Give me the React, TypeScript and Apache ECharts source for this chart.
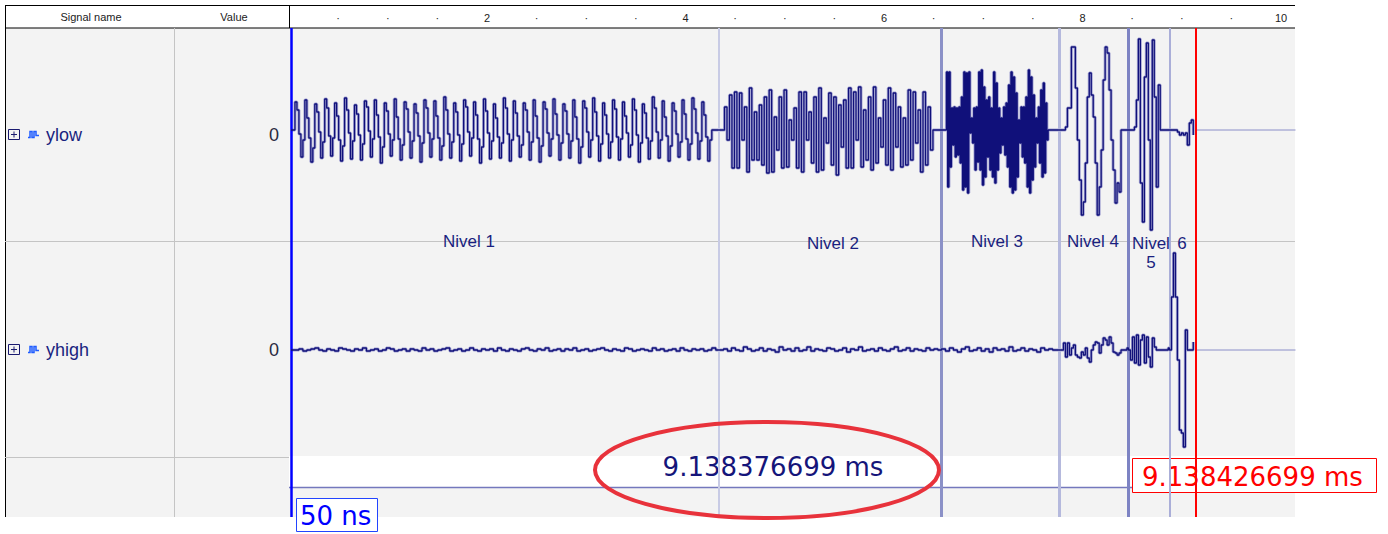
import React, { useEffect, useRef } from "react";
import * as echarts from "echarts";

// ---------- axis ----------
const X_MIN = 0;
const X_MAX = 10.146;
const TICK_STEP = 0.5;
const LABELED_TICKS = [2, 4, 6, 8, 10];

// ---------- signals ----------
const signalNames = ["ylow", "yhigh"];
const signalValues = ["0", "0"];

// cursors / level boundaries (time units of the ruler)
const cursorStart = 0.025;
const cursorEnd = 9.138;
const levelBoundaries = [4.343, 6.579, 7.768, 8.463, 8.876];
const boundaryColors = ["#c8cbe5", "#8b91c7", "#b5b9dd", "#7d83c3", "#aaaed8"];
const boundaryWidths = [2, 3, 3, 3, 2];

const deltaText = "9.138376699 ms";
const cursorEndText = "9.138426699 ms";
const cursorStartText = "50 ns";

// segment start times and sample spacing
const ylowStarts = [0.025, 4.343, 6.579, 7.768, 8.463, 8.876];
const ylowSteps = [0.02, 0.025, 0.0125, 0.02, 0.02, 0.02];
const yhighStarts = [0.025, 4.343, 6.579, 7.768, 8.463, 8.876];
const yhighSteps = [0.04, 0.04, 0.04, 0.02, 0.02, 0.02];

// ylow samples per level
const ylowNivel1 = [0, 0,
  28, 20, -4, -27, -10, 30, 12, -8, -32, -18, 26, 18, -2, -28, -12, 31, 22, -6, -26, -8,
  27, 14, -10, -31, -16, 32, 20, -3, -29, -11, 25, 16, -5, -30, -14, 29, 23, -1, -27, -9,
  30, 15, -7, -33, -17, 27, 19, -4, -26, -10, 31, 13, -9, -30, -15, 28, 21, -2, -28, -11,
  26, 17, -6, -32, -13, 30, 22, -3, -27, -9, 29, 14, -8, -30, -16, 33, 20, -4, -28, -12,
  27, 18, -5, -31, -14, 30, 23, -2, -26, -8, 28, 15, -9, -33, -17, 31, 19, -3, -29, -11,
  26, 12, -7, -28, -13, 32, 22, -4, -31, -10, 29, 17, -6, -27, -15, 27, 20, -2, -30, -12,
  30, 14, -8, -32, -16, 28, 21, -3, -26, -9, 31, 16, -5, -30, -13, 26, 19, -4, -28, -11,
  30, 13, -9, -33, -17, 29, 22, -2, -27, -10, 32, 18, -6, -31, -14, 27, 15, -4, -28, -12,
  30, 21, -7, -30, -9, 28, 14, -3, -27, -15, 31, 20, -5, -32, -13, 26, 17, -8, -29, -11,
  33, 22, -2, -28, -10, 29, 13, -6, -31, -16, 27, 19, -4, -27, -12, 30, 16, -9, -30, -14,
  32, 21, -3, -29, -11, 28, 15, -7, -31, -10,
  0, 0, 0, 0];

const ylowNivel2 = [0, 0,
  23, -10, 35, -38, 38, -38, 37, -10, 23, -42,
  42, -30, 18, -30, 25, -35, 33, -43, 40, -42,
  13, -20, 33, -38, 40, -37, 10, -10, 22, -38,
  38, -42, 38, -10, 18, -33, 33, -42, 42, -40,
  12, -13, 37, -35, 33, -45, 25, -17, 30, -38,
  42, -38, 38, -10, 43, -37, 20, -30, 33, -40,
  43, -33, 12, -17, 30, -35, 42, -40, 37, -17,
  23, -37, 12, -35, 40, -30, 38, -13, 20, -42,
  38, -35, 23, -20,
  0, 0, 0, 0];

const ylowNivel3 = [0, 0, 0, 0,
  58, -57, 58, -37, 22, -15, 23, -27, 22, -25, 23, -33, 33, -60, 58, -57,
  57, -63, 58, -3, 12, -13, 22, -40, 23, -32, 58, -40, 60, -55, 43, -47,
  30, -27, 33, -40, 22, -47, 58, -53, 47, -40, 22, -23, 12, -15, 23, -25,
  27, -37, 45, -57, 58, -63, 53, -60, 37, -47, 10, -13, 23, -27, 23, -33,
  33, -57, 60, -63, 53, -50, 35, -37, 12, -13, 23, -33, 40, -47, 47, -43,
  27, -10,
  0, 0, 0, 0, 0, 0, 0, 0, 0];

const ylowNivel4 = [0, 0, 0, 3, 22, 22, 83, 83, 42, -10, -50, -85, -72, -33, 33, 57, 35, 13,
  -33, -85, -57, -20, 50, 83, 77, 40, -10, -40, -73, -53, -62, 0, 0, 0, 0];

const ylowNivel5 = [0, 0, 0, 3, 30, 91, -53, -92, 53, 87, -10, -100, 90, 33, -57, 45, 0, 0, 0, 0, 0];

const ylowNivel6 = [0, 0, 0, 0, -2, -5, -3, -5, -3, -15, 7, 10, -5];

// yhigh samples per level
const yhighNivel1 = [
  0, 0, 1, -1, 0, 1, 2, 0, -1, 1, 0, -1, 2, 1, 0, -1, 1, 0, 2, -1,
  0, 1, -1, 0, 2, 1, -1, 0, 1, -1, 1, 0, -1, 2, 0, 1, -1, 0, 1, 2,
  -1, 0, 1, -1, 0, 2, 0, -1, 1, 0, 1, -1, 2, 0, -1, 1, 0, -1, 1, 2,
  0, -1, 1, 0, 2, -1, 0, 1, -1, 1, 0, 2, -1, 0, 1, -1, 0, 1, 2, 0,
  -1, 1, 0, -1, 2, 1, -1, 0, 1, 0, -1, 2, 0, 1, -1, 0, 1, -1, 2, 0,
  -1, 1, 0, 1, -1, 0, 2, 0];

const yhighNivel2 = [
  0, 1, -1, 2, 0, -1, 3, 1, -1, 0, 2, -1, 1, 0, -2, 3, 0, 1, -1, 2,
  -1, 0, 3, -1, 1, 0, -1, 2, 1, -1, 0, 2, -2, 1, 0, 3, -1, 0, 1, -1,
  2, 0, -1, 1, 3, -1, 0, 2, -1, 1, 0, -1, 2, 0, 1, 0];

const yhighNivel3 = [
  1, -1, 2, 0, -2, 1, 3, -1, 0, 2, -1, 1, -2, 2, 0, 1, -1, 3, -1, 0,
  2, -1, 1, 0, -2, 2, 0, 1, 0, 0];

const yhighNivel4 = [0, 0, 7, -7, 7, -5, 2, 5, -5, -7, -8, -2, -5, 2, -8, -12, 0, 5, 8, 7,
  -3, 5, 12, 10, 5, 13, 7, -2, -3, -5, -3, 0, 0, 0, 2];

const yhighNivel5 = [0, -10, 13, -13, 15, -15, 10, 15, -13, 13, -7, -17, 12, 3, 0, 0, 0, 0, 0, 0, 2];

const yhighNivel6 = [0, 53, 97, 53, -10, -80, -83, -97, 20, 0, 0, 0, 8];

const ylowLevels = [ylowNivel1, ylowNivel2, ylowNivel3, ylowNivel4, ylowNivel5, ylowNivel6];
const yhighLevels = [yhighNivel1, yhighNivel2, yhighNivel3, yhighNivel4, yhighNivel5, yhighNivel6];

const levelLabels = [
  { text: "Nivel 1", x: 469, y: 241 },
  { text: "Nivel 2", x: 833, y: 243 },
  { text: "Nivel 3", x: 997, y: 241 },
  { text: "Nivel 4", x: 1093, y: 241 },
  { text: "Nivel", x: 1151, y: 243 },
  { text: "5", x: 1151, y: 262 },
  { text: "6", x: 1182, y: 243 },
];

function buildSeries(starts: number[], steps: number[], levels: number[][]) {
  const out: [number, number][] = [];
  levels.forEach((vals, k) => {
    vals.forEach((v, i) => out.push([starts[k] + i * steps[k], v]));
  });
  return out;
}

const SANS = '"Liberation Sans", Arial, sans-serif';
const DV = '"DejaVu Sans", Verdana, sans-serif';
const NAVY = "#1a1f80";

function txt(text: string, x: number, y: number, size: number, color: string, align = "left", font = SANS, z = 7) {
  return {
    type: "text",
    x,
    y,
    z,
    style: {
      text,
      fill: color,
      fontSize: size,
      fontFamily: font,
      align,
      verticalAlign: "middle",
      textAlign: align,
      textVerticalAlign: "middle",
    },
  };
}

function hline(x1: number, x2: number, y: number, color: string, w = 1, z = 1) {
  return { type: "line", z, shape: { x1, y1: y, x2, y2: y }, style: { stroke: color, lineWidth: w } };
}
function vline(x: number, y1: number, y2: number, color: string, w = 1, z = 1) {
  return { type: "line", z, shape: { x1: x, y1, x2: x, y2 }, style: { stroke: color, lineWidth: w } };
}

function signalRowGraphics(cy: number, name: string, value: string) {
  return [
    { type: "rect", z: 2, shape: { x: 8.5, y: cy - 5, width: 11, height: 10 }, style: { fill: "none", stroke: "#1a1a70", lineWidth: 1 } },
    hline(11, 17, cy, "#1a1a70", 1, 2),
    vline(14, cy - 3, cy + 3, "#1a1a70", 1, 2),
    {
      type: "polyline",
      z: 2,
      shape: {
        points: [[28, cy + 3], [30, cy + 3], [30, cy - 3], [32, cy - 3], [32, cy + 3], [34, cy + 3], [34, cy - 3], [36, cy - 3], [36, cy + 1], [39, cy + 1]],
      },
      style: { stroke: "#1f5cff", lineWidth: 1.5, fill: "none" },
    },
    txt(name, 46, cy, 18, NAVY),
    txt(value, 279, cy, 18, "#2a2a40", "right"),
  ];
}

export default function App() {
  const ref = useRef<HTMLDivElement>(null);

  useEffect(() => {
    if (!ref.current) return;
    const chart = echarts.init(ref.current, undefined, { renderer: "svg" });

    const ylowData = buildSeries(ylowStarts, ylowSteps, ylowLevels);
    const yhighData = buildSeries(yhighStarts, yhighSteps, yhighLevels);

    const gridL = 288.5;
    const gridR = 92.5;

    const xAxisBase = { type: "value", min: X_MIN, max: X_MAX, interval: TICK_STEP };

    const waveSeries = (data: [number, number][], idx: number, halo: boolean) => ({
      type: "line",
      xAxisIndex: idx,
      yAxisIndex: idx,
      data,
      step: "end",
      symbol: "none",
      showSymbol: false,
      silent: true,
      z: halo ? 4 : 5,
      lineStyle: halo
        ? { color: "rgba(90,90,180,0.5)", width: 3 }
        : { color: "#10107a", width: 1.3 },
    });

    const tailSeries = (idx: number) => ({
      type: "line",
      xAxisIndex: idx,
      yAxisIndex: idx,
      data: [[cursorEnd, 0], [X_MAX, 0]],
      symbol: "none",
      silent: true,
      z: 4,
      lineStyle: { color: "#8a8ec8", width: 1 },
    });

    const graphics: any[] = [
      // backgrounds
      { type: "rect", z: 0, shape: { x: 5, y: 28, width: 284, height: 489 }, style: { fill: "#f3f3f3" } },
      { type: "rect", z: 0, shape: { x: 289, y: 28, width: 1006, height: 489 }, style: { fill: "#f3f3f3" } },
      { type: "rect", z: 0, shape: { x: 289, y: 456, width: 1006, height: 31.5 }, style: { fill: "#ffffff" } },
      // header borders
      hline(5, 1295, 5.5, "#000", 1, 1),
      hline(5, 1295, 28, "#000", 1, 1),
      vline(5.5, 5, 517, "#000", 1, 1),
      vline(289.5, 5, 28, "#000", 1, 1),
      // left panel separators
      vline(174.5, 28, 517, "#c4c4c4", 1, 1),
      hline(5, 289, 241.5, "#c4c4c4", 1, 1),
      hline(5, 289, 457.5, "#c4c4c4", 1, 1),
      // row separator in wave area
      hline(289, 1295, 241.5, "#c4c4c4", 1, 1),
      // measurement ruler
      hline(289, 1196, 487.5, "#7478bd", 1.5, 1),
      // header text
      txt("Signal name", 91, 17, 11, "#222", "center", SANS, 2),
      txt("Value", 234, 17, 11, "#222", "center", SANS, 2),
      ...signalRowGraphics(134.5, signalNames[0], signalValues[0]),
      ...signalRowGraphics(349.5, signalNames[1], signalValues[1]),
      // level labels
      ...levelLabels.map((l) => txt(l.text, l.x, l.y, 17, NAVY, "center", SANS, 7)),
      // end cursor box
      { type: "rect", z: 2, shape: { x: 1132.5, y: 458.5, width: 244, height: 34 }, style: { fill: "#ffffff", stroke: "#ff0000", lineWidth: 1 } },
      txt(cursorEndText, 1142, 477, 26, "#ff0000", "left", DV, 2),
      // delta text
      txt(deltaText, 773, 467, 26, "#15157a", "center", DV, 2),
      // start cursor box
      { type: "rect", z: 7, shape: { x: 296.5, y: 498.5, width: 81, height: 33 }, style: { fill: "#ffffff", stroke: "#2244ff", lineWidth: 1 } },
      txt(cursorStartText, 300, 516, 26, "#0000ff", "left", DV, 8),
      // red ellipse annotation
      { type: "ellipse", z: 20, shape: { cx: 767, cy: 470, rx: 172, ry: 48 }, style: { fill: "none", stroke: "#e8323b", lineWidth: 4 } },
    ];

    const option: any = {
      animation: false,
      backgroundColor: "#ffffff",
      grid: [
        { left: gridL, right: gridR, top: 28, height: 213, show: false },
        { left: gridL, right: gridR, top: 241, height: 216, show: false },
        { left: gridL, right: gridR, top: 28, height: 489, show: false },
      ],
      xAxis: [
        {
          ...xAxisBase,
          gridIndex: 0,
          position: "top",
          axisLine: { show: false },
          axisTick: { show: false },
          splitLine: { show: false },
          axisLabel: {
            show: true,
            margin: 5,
            fontSize: 11,
            color: "#222",
            fontFamily: SANS,
            showMinLabel: true,
            showMaxLabel: true,
            formatter: (v: number) => {
              const r = Math.round(v / TICK_STEP) * TICK_STEP;
              if (Math.abs(v - r) > 1e-6 || r === 0) return "";
              if (LABELED_TICKS.some((t) => Math.abs(t - r) < 1e-6)) return String(Math.round(r));
              return "·";
            },
          },
        },
        { ...xAxisBase, gridIndex: 1, show: false },
        { ...xAxisBase, gridIndex: 2, show: false },
      ],
      yAxis: [
        { type: "value", gridIndex: 0, min: -111, max: 102, show: false },
        { type: "value", gridIndex: 1, min: -107, max: 109, show: false },
        { type: "value", gridIndex: 2, min: 0, max: 1, show: false },
      ],
      series: [
        {
          type: "line",
          xAxisIndex: 2,
          yAxisIndex: 2,
          data: [],
          z: 3,
          silent: true,
          markLine: {
            silent: true,
            symbol: ["none", "none"],
            label: { show: false },
            data: levelBoundaries.map((t, i) => ({
              xAxis: t,
              lineStyle: { color: boundaryColors[i], width: boundaryWidths[i], type: "solid" },
            })),
          },
        },
        waveSeries(ylowData, 0, true),
        waveSeries(ylowData, 0, false),
        tailSeries(0),
        waveSeries(yhighData, 1, true),
        waveSeries(yhighData, 1, false),
        tailSeries(1),
        {
          type: "line",
          xAxisIndex: 2,
          yAxisIndex: 2,
          data: [],
          z: 6,
          silent: true,
          markLine: {
            silent: true,
            symbol: ["none", "none"],
            label: { show: false },
            data: [
              { xAxis: cursorStart, lineStyle: { color: "#0000ff", width: 2.5, type: "solid" } },
              { xAxis: cursorEnd, lineStyle: { color: "#ff0000", width: 2, type: "solid" } },
            ],
          },
        },
      ],
      graphic: { elements: graphics },
    };

    chart.setOption(option);
    return () => chart.dispose();
  }, []);

  return (
    <div
      ref={ref}
      style={{ position: "absolute", left: 0, top: 0, width: 1388, height: 534 }}
    />
  );
}
